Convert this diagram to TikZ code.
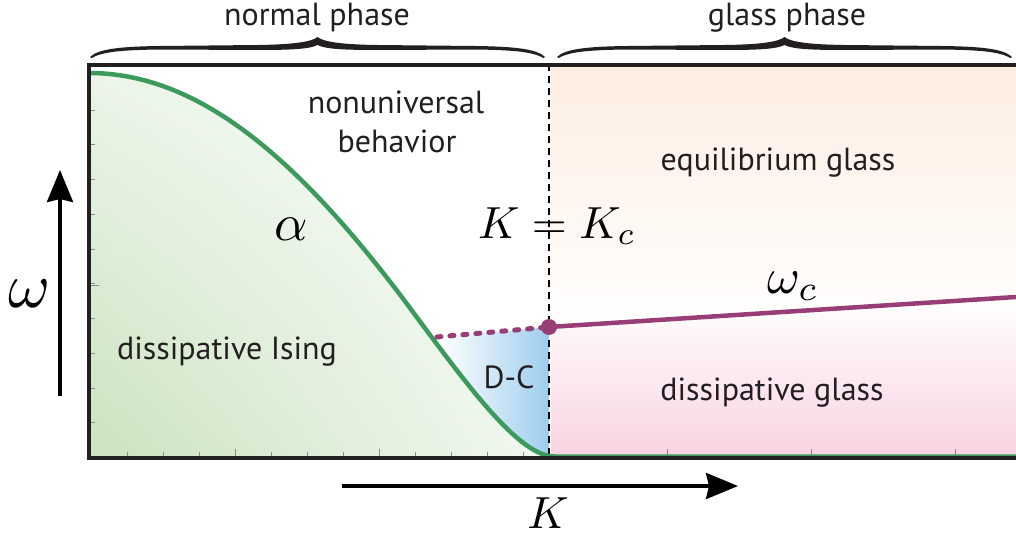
\documentclass[tikz,border=0pt]{standalone}
\usepackage{fontspec}
\setmainfont{PT Sans}
\usetikzlibrary{arrows.meta,shadings}
\definecolor{gline}{RGB}{60,154,92}
\definecolor{pline}{RGB}{152,62,118}
\definecolor{dk}{RGB}{35,31,32}
\definecolor{gfill}{RGB}{202,227,192}
\definecolor{bfill}{RGB}{157,205,238}
\definecolor{peach}{RGB}{253,237,225}
\definecolor{pink}{RGB}{248,211,226}
\definecolor{tickc}{RGB}{140,140,140}
\begin{document}
\begin{tikzpicture}[x=1pt,y=-1pt,
  lab/.style={font=\fontsize{32}{34}\selectfont, text=dk, anchor=base, inner sep=0pt},
  mlab/.style={font=\fontsize{10}{12}\selectfont, text=black, anchor=base, inner sep=0pt},
  frame/.style={draw=dk, line width=4pt},
  tickmark/.style={draw=tickc, line width=0.8pt},
  bracefill/.style={fill=dk},
  bigarrow/.style={draw=black, line width=3.5pt, -{Stealth[length=32pt,width=26pt,inset=3pt]}},
  curveg/.style={draw=gline, line width=4.5pt},
  curvep/.style={draw=pline, line width=4.5pt},
  dotp/.style={draw=pline, line width=5pt, line cap=round, dash pattern=on 4pt off 9pt},
  kcline/.style={draw=black, line width=2.2pt, dash pattern=on 7pt off 5pt}
]
\useasboundingbox (0,0) rectangle (1016,538);

% glass phase fills
\begin{scope}
  \clip (551,64) -- (1016,64) -- (1016,297) -- (551,327) -- cycle;
  \shade[top color=peach, bottom color=white] (551,64) rectangle (1016,327);
\end{scope}
\begin{scope}
  \clip (551,327) -- (1016,297) -- (1016,457) -- (551,457) -- cycle;
  \shade[top color=white, bottom color=pink] (551,297) rectangle (1016,457);
\end{scope}

% D-C region
\begin{scope}
  \clip (433,338) -- (549,327) -- (549,457) -- (420,457) -- cycle;
  \shade[left color=white, right color=bfill] (440,320) rectangle (549,457);
\end{scope}

% dissipative Ising region
\begin{scope}
  \clip (89,73) .. controls (200,73) and (300,160) .. (410,308) .. controls (470,389) and (520,457) .. (555,457) -- (89,457) -- cycle;
  \shade[lower left=gfill, upper left=gfill!35!white, lower right=gfill!25!white, upper right=white] (89,64) rectangle (549,457);
\end{scope}

% ticks
\foreach \i in {0,...,9} \draw[tickmark] (89,{110+34.75*\i}) -- ++(6,0);
\draw[tickmark] (89,285) -- ++(10,0);
\foreach \i in {1,...,12} \draw[tickmark] ({91+36*\i},457) -- ++(0,-5);
\foreach \x in {235,379,667,811,955} \draw[tickmark] (\x,457) -- ++(0,-8);

% K = K_c dashed line
\coordinate (kctop) at (549,64);
\coordinate (kcbot) at (549,457);
\draw[kcline] (kctop) -- (kcbot);

% green curve
\draw[curveg] (89,73) .. controls (200,73) and (300,160) .. (410,308) .. controls (470,389) and (520,457) .. (555,456.5) -- (1016,456.5);

% purple line
\coordinate (dcstart) at (437,337);
\coordinate (crit) at (549,327);
\coordinate (wcend) at (1016,297);
\draw[dotp] (dcstart) -- (crit);
\draw[curvep] (crit) -- (wcend);
\fill[pline] (crit) circle (8pt);

% frame
\draw[frame] (87,65) -- (1016,65);
\draw[frame] (89,63) -- (89,460);
\draw[frame] (87,458) -- (1016,458);

% braces (tapered)
\foreach \xa/\xb in {90/545, 557/1012} {
  \pgfmathsetmacro\xm{(\xa+\xb)/2}
  \fill[bracefill] (\xa,57) .. controls ({\xa+8},49) and ({\xa+30},46.5) .. ({\xa+70},46)
     -- ({\xm-60},45) .. controls ({\xm-25},44.5) and ({\xm-6},42) .. (\xm,37)
     .. controls ({\xm+6},42) and ({\xm+25},44.5) .. ({\xm+60},45)
     -- ({\xb-70},46) .. controls ({\xb-30},46.5) and ({\xb-8},49) .. (\xb,57)
     -- ({\xb-1.5},58) .. controls ({\xb-12},52) and ({\xb-30},50) .. ({\xb-70},49.5)
     -- ({\xm+60},50) .. controls ({\xm+25},50) and ({\xm+8},49) .. (\xm,45)
     .. controls ({\xm-8},49) and ({\xm-25},50) .. ({\xm-60},50)
     -- ({\xa+70},49.5) .. controls ({\xa+30},50) and ({\xa+12},52) .. ({\xa+1.5},58) -- cycle;
}

% axis arrows
\coordinate (wlo) at (60,396);
\coordinate (whi) at (60,170);
\coordinate (klo) at (342,486);
\coordinate (khi) at (738,486);
\draw[bigarrow] (wlo) -- (whi);
\draw[bigarrow] (klo) -- (khi);

% labels
\node[lab] (normal) at (317,25) {normal phase};
\node[lab] (glass) at (787,25) {glass phase};
\node[lab] (nonu) at (396,113) {nonuniversal};
\node[lab] (behav) at (397,152) {behavior};
\node[lab] (eqg) at (778,170) {equilibrium glass};
\node[lab] (disI) at (227,359) {dissipative Ising};
\node[lab] (dc) at (509,388) {D-C};
\node[lab] (disg) at (772,400) {dissipative glass};
\node[mlab, scale=5.2] (alpha) at (291,240) {$\alpha$};
\node[mlab, scale=4.5] (kkc) at (557,238) {$K=K_c$};
\node[mlab, scale=5.0] (omc) at (793,293) {$\omega_c$};
\node[mlab, scale=6.4] (om) at (30,307) {$\omega$};
\node[mlab, scale=4.5] (kax) at (548,528) {$K$};
\end{tikzpicture}
\end{document}
